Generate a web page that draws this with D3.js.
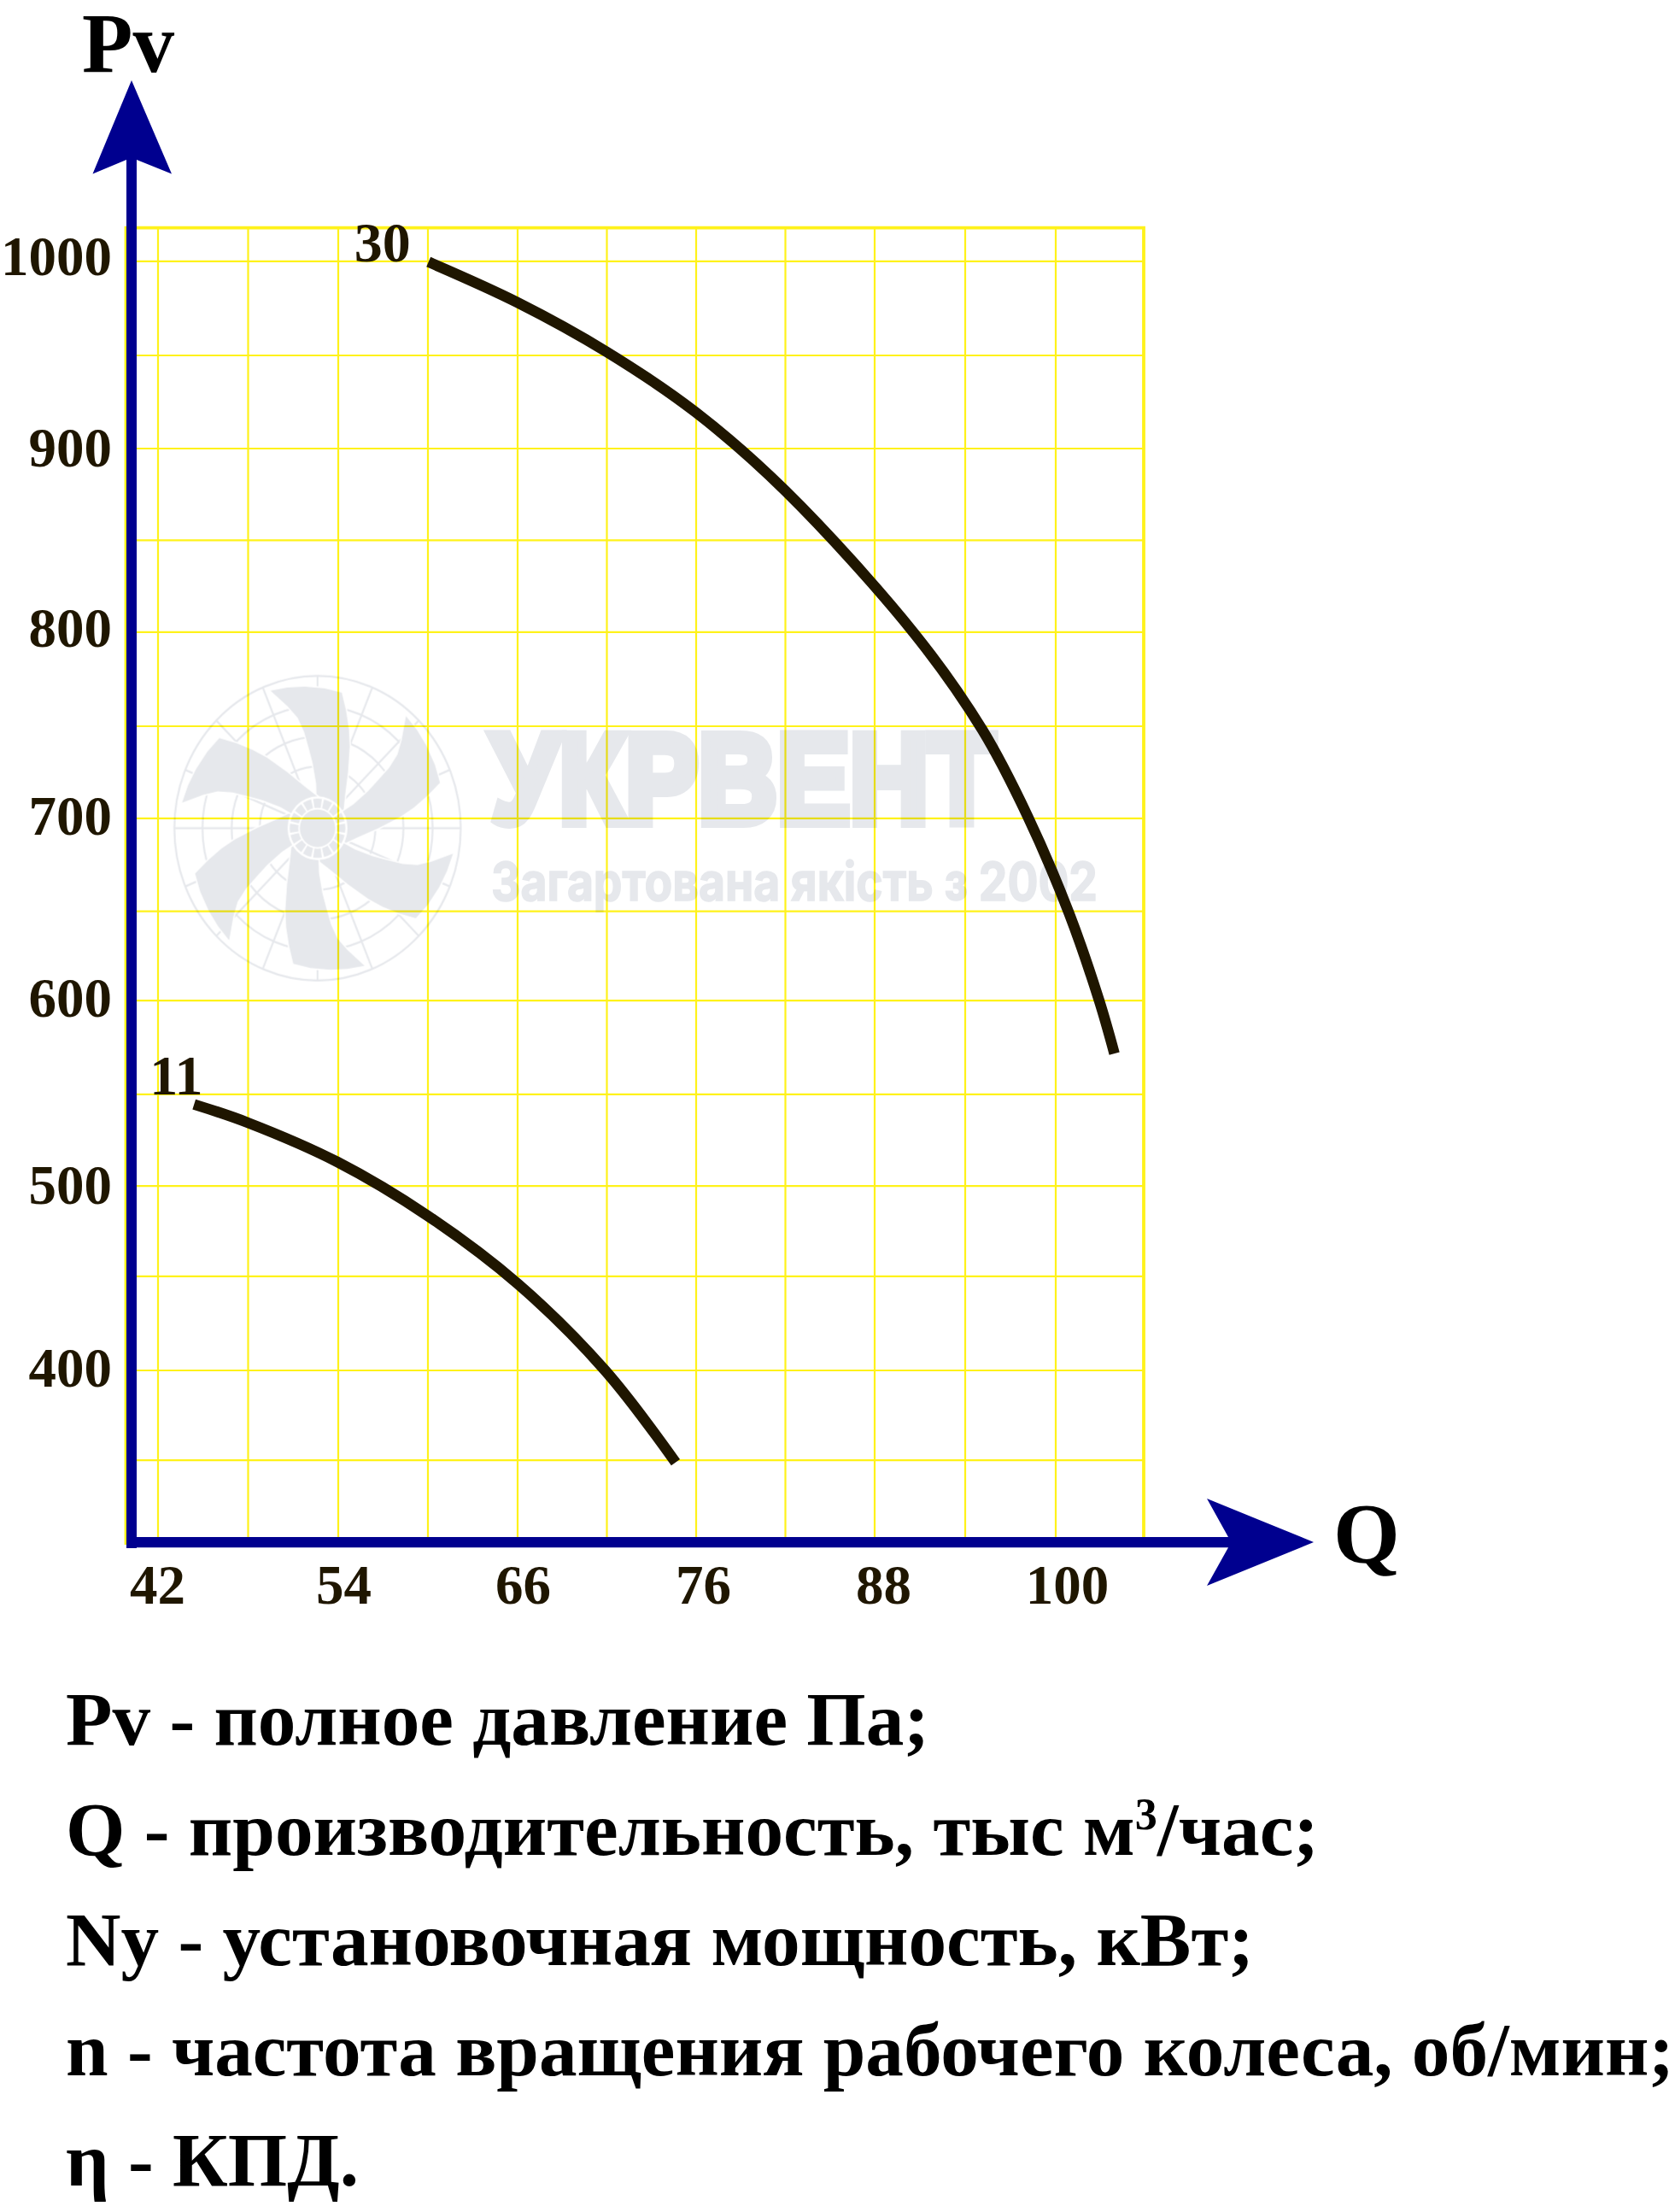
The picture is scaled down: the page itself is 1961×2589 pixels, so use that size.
<!DOCTYPE html>
<html>
<head>
<meta charset="utf-8">
<script src="https://cdnjs.cloudflare.com/ajax/libs/d3/7.8.5/d3.min.js"></script>
<style>
html,body{margin:0;padding:0;background:#fff}
svg{display:block;background:#fff}
text{font-family:"Liberation Serif",serif;font-weight:700}
</style>
</head>
<body>
<script>
// ---- data ----
const xTickValues = [42, 54, 66, 76, 88, 100];
const yTickValues = [1000, 900, 800, 700, 600, 500, 400];
const xGridValues = [42, 48, 54, 60, 66, 71, 76, 82, 88, 94, 100];
const yGridValues = [1001.5, 950.5, 900, 850.2, 800.4, 749.4, 699.4, 649, 600.6, 549.7, 500, 451, 400, 351.3];
const curve30Q  = [60.04, 66, 70.98, 76, 82.03, 90.6, 95.13, 98.13, 100.91, 102.95, 104];
const curve30Pv = [1001.2, 979.2, 952.5, 919.5, 876.8, 800, 747.5, 700.7, 647.9, 600.9, 571.9];
const curve11Q  = [44.4, 47.97, 53.96, 59.98, 66.03, 70.9, 74.85];
const curve11Pv = [544.3, 534.4, 513, 483.9, 446.8, 400, 350.1];
const curveNames = ["30", "11"];
const legendLines = [
  ["Pv - полное давление Па;"],
  ["Q - производительность, тыс м", "3", "/час;"],
  ["Ny - установочная мощность, кВт;"],
  ["n - частота вращения рабочего колеса, об/мин;"],
  ["η - КПД."]
];
const watermarkTitle = "УКРВЕНТ";
const watermarkTagline = "Загартована якість з 2002";

// ---- page ----
const W = 1961, H = 2589;
const INK = "#1f1600", BLUE = "#00008f", YELLOW = "#fff21a", MARK = "#e6e8ec";
const svg = d3.select("body").append("svg").attr("width", W).attr("height", H);

// The printed Q axis is not uniform, hence a piecewise scale
const x = d3.scaleLinear([39.84, 42, 54, 66, 76, 88, 100, 106], [147.5, 185, 396, 606, 815, 1024, 1236, 1339]);
const y = d3.scaleLinear([400, 900], [1604, 525]);
const labelX = d3.scaleLinear(xTickValues, [184, 402, 612, 823, 1034, 1249]);
const labelY = d3.scaleLinear([400, 500, 600, 700, 800, 900, 1000], [1622, 1408, 1189, 976, 756, 545, 321]);

const plotTop = 266.7, plotBottom = 1806, plotLeft = x.range()[0], plotRight = 1339;

// ---- grid ----
const gridX = svg.append("g").attr("transform", `translate(0,${plotBottom})`)
  .call(d3.axisBottom(x).tickValues(xGridValues).tickSize(-(plotBottom - plotTop)).tickFormat("").offset(0));
const gridY = svg.append("g").attr("transform", `translate(${plotLeft},0)`)
  .call(d3.axisLeft(y).tickValues(yGridValues).tickSize(-(plotRight - plotLeft)).tickFormat("").offset(0));
[gridX, gridY].forEach(g => {
  g.select(".domain").remove();
  g.selectAll("line").attr("stroke", YELLOW).attr("stroke-width", 2.2);
});
svg.append("path")
  .attr("d", `M${plotLeft},${plotBottom + 2}V${plotTop}H${plotRight}V${plotBottom}`)
  .attr("fill", "none").attr("stroke", YELLOW).attr("stroke-width", 3.8);

// ---- curves ----
const line = d3.line().x(d => x(d[0])).y(d => y(d[1])).curve(d3.curveCatmullRom.alpha(0.5));
const curves = [d3.zip(curve30Q, curve30Pv), d3.zip(curve11Q, curve11Pv)];
svg.append("g").selectAll("path").data(curves).join("path")
  .attr("d", line).attr("fill", "none").attr("stroke", INK).attr("stroke-width", 12.5);
svg.append("g").selectAll("text").data(curves).join("text")
  .attr("x", (d, i) => x(d[0][0]) + [-87, -52][i])
  .attr("y", (d, i) => y(d[0][1]) + [-1, -12][i])
  .attr("font-size", 66).attr("fill", INK)
  .text((d, i) => curveNames[i]);

// ---- axes ----
const axes = svg.append("g");
axes.append("path")
  .attr("d", "M154,94 L201,203.6 L160,187 L160,1799 L1438,1799 L1413,1754 L1538,1805 L1413,1856 L1438,1811.3 L160,1811.3 L160,1812 L148,1812 L148,187 L108.5,203.6 Z")
  .attr("fill", BLUE);

const xAxis = svg.append("g").attr("transform", "translate(0,1877)")
  .call(d3.axisBottom(labelX).tickValues(xTickValues).tickSize(0).tickPadding(0).tickFormat(d3.format("d")));
const yAxis = svg.append("g").attr("transform", "translate(131,0)")
  .call(d3.axisLeft(labelY).tickValues(yTickValues).tickSize(0).tickPadding(0).tickFormat(d3.format("d")));
[xAxis, yAxis].forEach(g => {
  g.select(".domain").remove();
  g.selectAll("text").attr("y", 0).attr("x", 0).attr("dy", 0)
    .attr("font-size", 65).attr("fill", INK)
    .style("font-family", '"Liberation Serif",serif').style("font-weight", 700);
});
svg.append("text").attr("x", 96).attr("y", 84).attr("font-size", 100).attr("fill", "#000")
  .attr("textLength", 108).attr("lengthAdjust", "spacingAndGlyphs").text("Pv");
svg.append("text").attr("x", 1561).attr("y", 1828).attr("font-size", 100).attr("fill", "#000").text("Q");

// ---- legend lines ----
const legendEnds = [1088, 1544, 1468, 1960, 420];
const legend = svg.append("g").selectAll("text").data(legendLines).join("text")
  .attr("x", 77).attr("y", (d, i) => 2042 + i * 129)
  .attr("font-size", 89).attr("fill", "#000")
  .attr("textLength", (d, i) => legendEnds[i] - 77).attr("lengthAdjust", "spacingAndGlyphs");
legend.each(function (parts) {
  const t = d3.select(this);
  parts.forEach((p, i) => {
    const s = t.append("tspan").text(p);
    if (parts.length > 1 && i === 1) s.attr("font-size", 52).attr("dy", -30);
    if (parts.length > 1 && i === 2) s.attr("dy", 30);
  });
});

// ---- watermark, laid over everything like a tinted stamp ----
const mark = svg.append("g").style("mix-blend-mode", "multiply");
const logo = mark.append("g").attr("transform", "translate(371.7,969.3) scale(0.3133,0.3333)");
[535, 430, 321, 216].forEach(r => logo.append("circle").attr("r", r)
  .attr("fill", "none").attr("stroke", MARK).attr("stroke-width", 7));
d3.range(16).forEach(i => {
  const a = i * Math.PI / 8;
  logo.append("line").attr("x1", 110 * Math.cos(a)).attr("y1", 110 * Math.sin(a))
    .attr("x2", 535 * Math.cos(a)).attr("y2", 535 * Math.sin(a))
    .attr("stroke", MARK).attr("stroke-width", 7);
});
const bladeOutline = [[572,525],[570,470],[558,400],[545,350],[528,290],[505,240],[470,200],[410,145],[470,134],[530,131],[600,137],[660,152],[675,215],[685,280],[688,340],[682,430],[672,510],[665,578],[620,600]];
const bladePath = d3.line().x(d => (d[0] - 575) / 0.94).y(d => d[1] - 628)(bladeOutline) + "Z";
d3.range(6).forEach(i => logo.append("path").attr("d", bladePath)
  .attr("transform", `rotate(${i * 60})`)
  .attr("fill", MARK).attr("stroke", "#fff").attr("stroke-width", 10).attr("paint-order", "stroke"));
logo.append("circle").attr("r", 112).attr("fill", "#fff");
const arc = d3.arc().innerRadius(72).outerRadius(104);
d3.range(16).forEach(i => logo.append("path")
  .attr("d", arc({ startAngle: (i + 0.1) * Math.PI / 8, endAngle: (i + 0.9) * Math.PI / 8 }))
  .attr("transform", `rotate(${-11.25})`)
  .attr("fill", MARK));
logo.append("circle").attr("r", 66).attr("fill", MARK);

mark.append("text").attr("x", 575).attr("y", 963).attr("font-size", 148)
  .attr("textLength", 590).attr("lengthAdjust", "spacingAndGlyphs")
  .attr("fill", MARK).attr("stroke", MARK).attr("stroke-width", 12).attr("stroke-linejoin", "miter")
  .style("font-family", '"Liberation Sans",sans-serif').style("font-weight", 700)
  .text(watermarkTitle);
mark.append("text").attr("x", 575).attr("y", 1054).attr("font-size", 62)
  .attr("textLength", 710).attr("lengthAdjust", "spacingAndGlyphs")
  .attr("fill", MARK).attr("stroke", MARK).attr("stroke-width", 1.5)
  .style("font-family", 'Inter,sans-serif').style("font-weight", 700)
  .text(watermarkTagline);
</script>
</body>
</html>
